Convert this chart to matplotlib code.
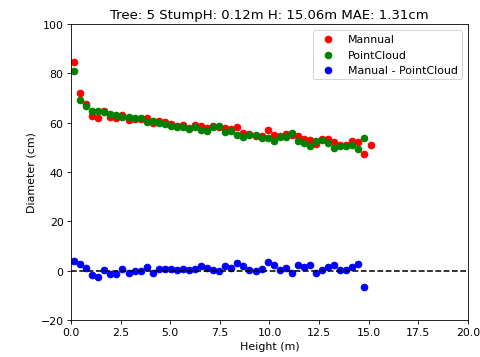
import matplotlib
matplotlib.use('Agg')
import matplotlib.pyplot as plt

plt.rcParams['font.size'] = 10.6

# heights along the stem (m)
height = [0.15, 0.46, 0.76, 1.07, 1.37, 1.68, 1.98, 2.29, 2.59, 2.90,
          3.20, 3.51, 3.81, 4.11, 4.42, 4.72, 5.03, 5.33, 5.64, 5.94,
          6.25, 6.55, 6.86, 7.16, 7.47, 7.77, 8.08, 8.38, 8.69, 8.99,
          9.30, 9.60, 9.91, 10.21, 10.52, 10.82, 11.13, 11.43, 11.73, 12.04,
          12.34, 12.65, 12.95, 13.26, 13.56, 13.87, 14.17, 14.48, 14.78]
height_manual = height + [15.09]

manual = [84.6, 72.1, 67.7, 62.7, 61.9, 64.6, 62.3, 61.9, 63.3, 61.3,
          61.5, 61.6, 61.9, 59.7, 60.6, 60.1, 59.4, 58.7, 58.9, 57.8,
          59.2, 58.8, 57.9, 58.6, 58.3, 57.9, 57.6, 58.2, 56.0, 55.5,
          54.8, 54.6, 57.1, 54.9, 54.6, 55.5, 54.9, 54.5, 53.2, 53.1,
          51.5, 53.2, 53.2, 52.1, 50.8, 50.8, 52.5, 52.2, 47.3, 51.1]

pointcloud = [80.8, 69.3, 66.6, 64.6, 64.6, 64.2, 63.7, 63.3, 62.5, 62.2,
              61.8, 61.9, 60.4, 60.6, 59.8, 59.3, 58.6, 58.3, 58.1, 57.4,
              58.4, 57.0, 56.8, 58.2, 58.6, 56.1, 56.5, 55.1, 54.2, 55.1,
              55.1, 53.8, 53.6, 52.5, 54.2, 54.4, 55.8, 52.4, 51.8, 50.7,
              52.4, 52.8, 51.8, 49.7, 50.4, 50.4, 51.1, 49.5, 54.0]

diff = [3.8, 2.8, 1.1, -1.9, -2.7, 0.4, -1.4, -1.4, 0.8, -0.9,
        -0.3, -0.3, 1.5, -0.9, 0.8, 0.8, 0.8, 0.4, 0.8, 0.4,
        0.8, 1.8, 1.1, 0.4, -0.3, 1.8, 1.1, 3.1, 1.8, 0.4,
        -0.3, 0.8, 3.5, 2.4, 0.4, 1.1, -0.9, 2.1, 1.4, 2.4,
        -0.9, 0.4, 1.4, 2.4, 0.4, 0.4, 1.4, 2.7, -6.7]

# original was a 640x480 figure shown at 3/4 size
fig = plt.figure(figsize=(6.413, 4.773), dpi=75)
ax = fig.add_axes([0.1476, 0.1034, 0.8254, 0.8266])

ax.scatter(height_manual, manual, color='red', s=40, label='Mannual')
ax.scatter(height, pointcloud, color='green', s=40, label='PointCloud')
ax.scatter(height, diff, color='blue', s=40, label='Manual - PointCloud')
ax.axhline(0, color='black', linestyle='--')

ax.set_xlim(0, 20)
ax.set_ylim(-20, 100)
ax.set_xlabel('Height (m)')
ax.set_ylabel('Diameter (cm)')
ax.set_title('Tree: 5 StumpH: 0.12m H: 15.06m MAE: 1.31cm')
ax.legend(loc='upper right')

fig.savefig('out.png', dpi=75)
